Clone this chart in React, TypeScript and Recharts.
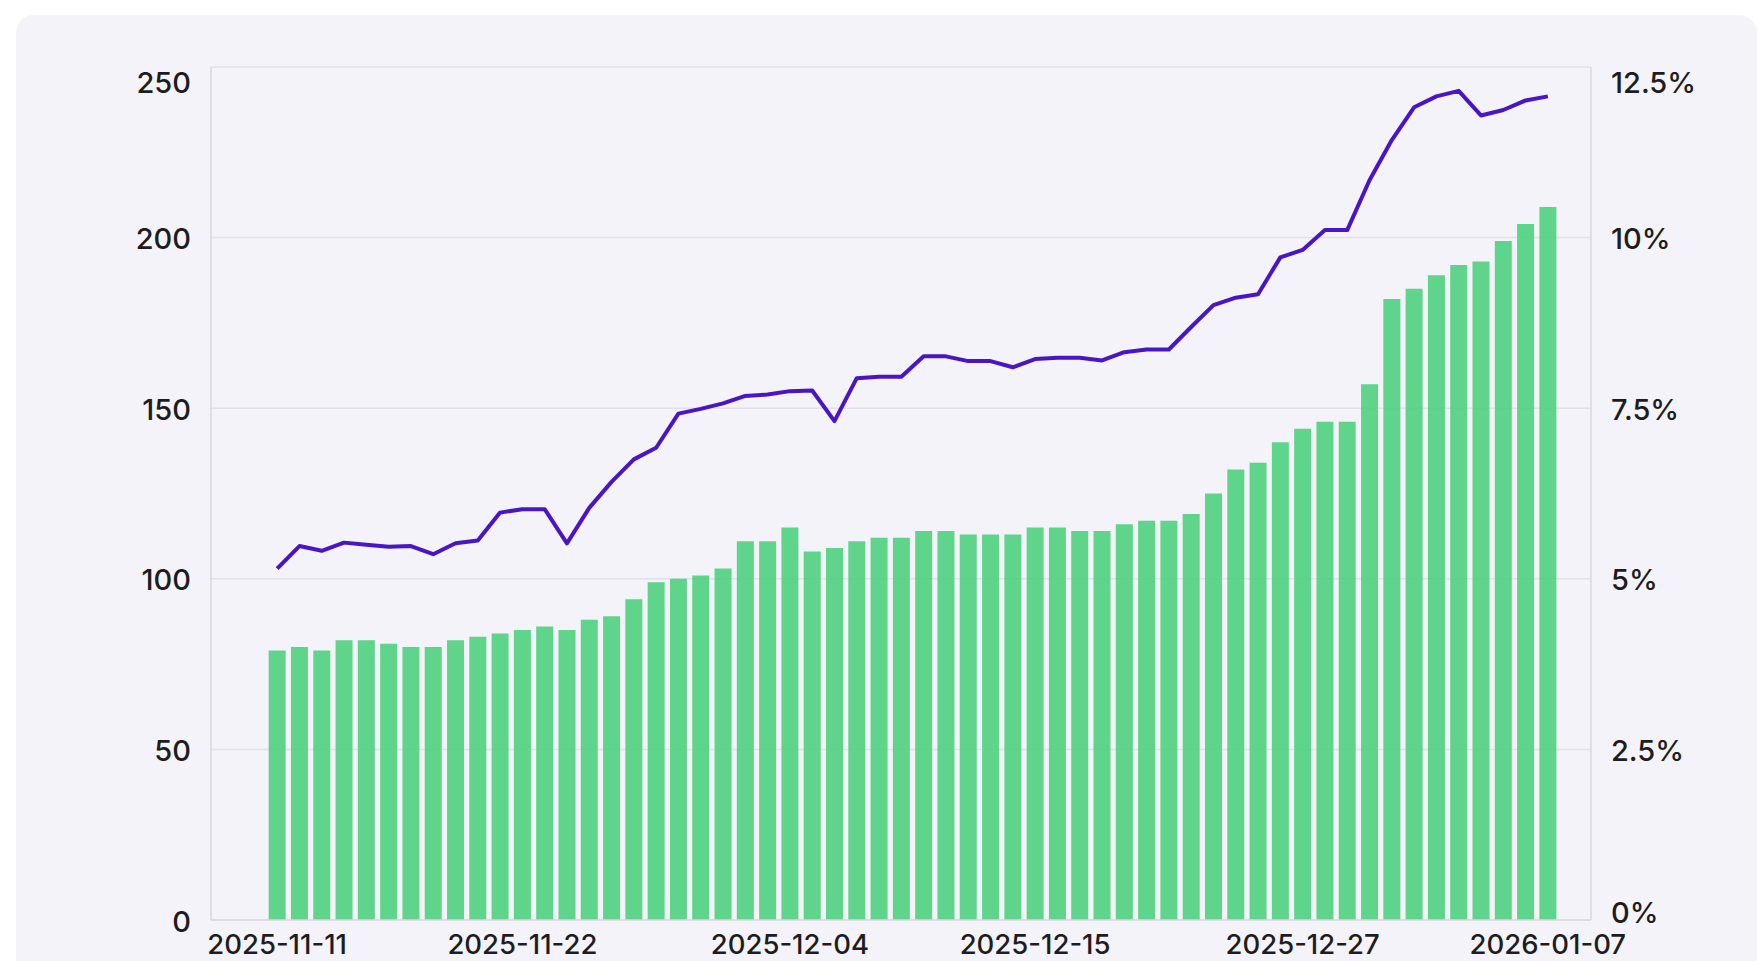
import React from "react";
import { ComposedChart, Bar, Line, XAxis, YAxis, CartesianGrid } from "recharts";

// ---------------------------------------------------------------------------
// Data
// ---------------------------------------------------------------------------
const dates = [
  "2025-11-11", "2025-11-12", "2025-11-13", "2025-11-14", "2025-11-15", "2025-11-16", "2025-11-17",
  "2025-11-18", "2025-11-19", "2025-11-20", "2025-11-21", "2025-11-22", "2025-11-23", "2025-11-24",
  "2025-11-25", "2025-11-26", "2025-11-27", "2025-11-28", "2025-11-29", "2025-11-30",
  "2025-12-01", "2025-12-02", "2025-12-03", "2025-12-04", "2025-12-05", "2025-12-06", "2025-12-07",
  "2025-12-08", "2025-12-09", "2025-12-10", "2025-12-11", "2025-12-12", "2025-12-13", "2025-12-14",
  "2025-12-15", "2025-12-16", "2025-12-17", "2025-12-18", "2025-12-19", "2025-12-20", "2025-12-21",
  "2025-12-22", "2025-12-23", "2025-12-24", "2025-12-25", "2025-12-26", "2025-12-27", "2025-12-28",
  "2025-12-29", "2025-12-30", "2025-12-31",
  "2026-01-01", "2026-01-02", "2026-01-03", "2026-01-04", "2026-01-05", "2026-01-06", "2026-01-07",
];

const counts = [
  79, 80, 79, 82, 82, 81, 80, 80, 82, 83,
  84, 85, 86, 85, 88, 89, 94, 99, 100, 101,
  103, 111, 111, 115, 108, 109, 111, 112, 112, 114,
  114, 113, 113, 113, 115, 115, 114, 114, 116, 117,
  117, 119, 125, 132, 134, 140, 144, 146, 146, 157,
  182, 185, 189, 192, 193, 199, 204, 209,
];

const pct = [
  5.15, 5.48, 5.41, 5.53, 5.5, 5.47, 5.48, 5.36, 5.52, 5.56,
  5.97, 6.02, 6.02, 5.52, 6.04, 6.42, 6.75, 6.92, 7.42, 7.49,
  7.57, 7.68, 7.7, 7.75, 7.76, 7.31, 7.94, 7.96, 7.96, 8.26,
  8.26, 8.19, 8.19, 8.1, 8.22, 8.24, 8.24, 8.2, 8.32, 8.36,
  8.36, 8.69, 9.01, 9.12, 9.17, 9.71, 9.82, 10.11, 10.11, 10.84,
  11.43, 11.91, 12.07, 12.15, 11.79, 11.87, 12.01, 12.07,
];

const xTickLabels = ["2025-11-11", "2025-11-22", "2025-12-04", "2025-12-15", "2025-12-27", "2026-01-07"];
const leftTicks = [0, 50, 100, 150, 200, 250];
const rightTicks = [0, 2.5, 5, 7.5, 10, 12.5];

const chartData = dates.map((d, i) => ({ date: d, count: counts[i], pct: pct[i] }));

const FONT = "Inter, 'Noto Sans', sans-serif";
const TEXT = "#1d1d1f";

// ---------------------------------------------------------------------------
// Ticks
// ---------------------------------------------------------------------------
function LeftTick({ x, y, payload }: any) {
  const shift = payload.value === 250 ? 15 : 1;
  return (
    <text x={x} y={y + shift} textAnchor="end" dominantBaseline="central" fontSize={29} fontWeight={500} fontFamily={FONT} fill={TEXT}>
      {payload.value}
    </text>
  );
}

function RightTick({ x, y, payload }: any) {
  // top label sits a bit below its line; the 0% label is nudged up to clear the last date
  const shift = payload.value === 12.5 ? 15 : payload.value === 0 ? -8 : 1;
  return (
    <text x={x} y={y + shift} textAnchor="start" dominantBaseline="central" fontSize={29} fontWeight={500} fontFamily={FONT} fill={TEXT}>
      {`${payload.value}%`}
    </text>
  );
}

function DateTick({ x, y, payload }: any) {
  if (!xTickLabels.includes(payload.value)) return <g />;
  return (
    <text x={x} y={y + 22} textAnchor="middle" dominantBaseline="central" fontSize={27.5} fontWeight={500} fontFamily={FONT} fill={TEXT}>
      {payload.value}
    </text>
  );
}

// ---------------------------------------------------------------------------
// App
// ---------------------------------------------------------------------------
export default function App() {
  return (
    <div style={{ position: "fixed", left: 0, top: 0, width: 1757, height: 961, background: "#fff", overflow: "hidden" }}>
      <div
        style={{
          position: "absolute", left: 16, top: 15, width: 1741, height: 980,
          background: "#f4f3f9", borderRadius: 18,
        }}
      />
      <div style={{ position: "absolute", left: 0, top: 0 }}>
        <ComposedChart
          width={1757}
          height={961}
          data={chartData}
          margin={{ top: 67, right: 86, left: 131, bottom: 1 }}
          barCategoryGap="12%"
        >
          <CartesianGrid yAxisId="left" vertical={false} stroke="#e2e0ea" strokeWidth={1.5} />
          <XAxis
            dataKey="date"
            interval={0}
            height={40}
            padding={{ left: 55, right: 32 }}
            tickLine={false}
            tickSize={0}
            tick={<DateTick />}
            axisLine={{ stroke: "#d9d8e0", strokeWidth: 1.5 }}
          />
          <YAxis
            yAxisId="left"
            width={80}
            domain={[0, 250]}
            ticks={leftTicks}
            tickLine={false}
            tickSize={0}
            tickMargin={20}
            tick={<LeftTick />}
            axisLine={{ stroke: "#d9d8e0", strokeWidth: 1.5 }}
          />
          <YAxis
            yAxisId="right"
            orientation="right"
            width={80}
            domain={[0, 12.5]}
            ticks={rightTicks}
            tickLine={false}
            tickSize={0}
            tickMargin={20}
            tick={<RightTick />}
            axisLine={{ stroke: "#d9d8e0", strokeWidth: 1.5 }}
          />
          <Bar yAxisId="left" dataKey="count" fill="#4fd280" fillOpacity={0.9} isAnimationActive={false} />
          <Line
            yAxisId="right"
            type="linear"
            dataKey="pct"
            stroke="#4a15c4"
            strokeWidth={4}
            strokeLinejoin="round"
            dot={false}
            activeDot={false}
            isAnimationActive={false}
          />
        </ComposedChart>
      </div>
    </div>
  );
}
